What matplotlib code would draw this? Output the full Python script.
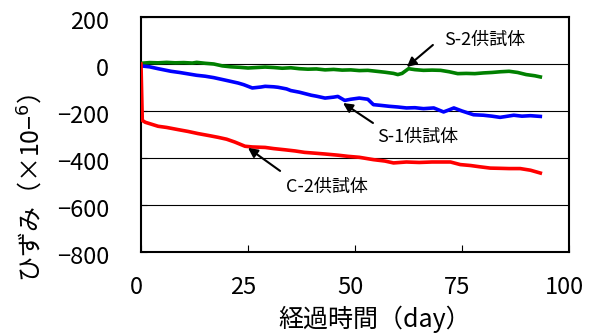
import matplotlib
matplotlib.use("Agg")
import matplotlib.pyplot as plt
import matplotlib.transforms as mtransforms

plt.rcParams['font.family'] = ['Noto Sans CJK JP', 'DejaVu Sans']

# S-2 (green)
s2_day = [0, 2, 4, 6, 8, 10, 12, 13, 15, 17, 19, 21, 23, 25, 27, 29, 31, 33, 35, 37, 39, 41, 43, 45, 47,
          49, 51, 53, 55, 57, 59, 60, 61, 62.5, 64, 66, 68, 70, 72, 74, 76, 78, 80, 82, 84, 86, 88, 90, 92, 93.3]
s2_val = [3, 6, 5, 7, 5, 6, 4, 7, 3, 0, -8, -12, -14, -17, -15, -13, -15, -18, -16, -20, -22, -21, -25, -23, -26,
          -25, -28, -27, -31, -35, -40, -45, -40, -20, -24, -27, -26, -27, -33, -41, -40, -41, -38, -36, -33, -31, -36, -45, -50, -55]

# S-1 (blue)
s1_day = [0, 2, 4, 7, 9, 11, 13, 15, 17, 18, 20, 22.7, 24, 26, 28, 29, 31, 32, 34, 35, 37, 39.8, 41, 43, 45, 46,
          47.6, 49, 51, 53, 54.3, 56, 58, 60, 62, 64, 66, 68.4, 70.7, 72, 73.1, 75, 77.7, 80, 82, 83.9, 85, 87.1, 89, 91, 93.3]
s1_val = [-8, -12, -20, -31, -36, -42, -48, -52, -58, -62, -70, -81, -88, -102, -98, -95, -97, -99, -106, -113, -120, -133, -137, -145, -141, -138,
          -155, -150, -145, -150, -173, -176, -180, -183, -187, -186, -190, -187, -204, -195, -187, -200, -216, -218, -222, -227, -224, -218, -222, -220, -223]

# C-2 (red)
c2_day = [0, 0.3, 1, 4, 6, 8.6, 11, 13.3, 16, 18, 20, 21.9, 24.3, 26, 29, 31, 33.6, 36, 38.2, 41, 43, 46, 48.4,
          51, 54.3, 57, 59, 62, 65, 68, 70, 72.3, 74.6, 77, 79, 81.6, 84, 86, 88.6, 91, 93.3]
c2_val = [0, -240, -248, -265, -270, -279, -287, -296, -305, -312, -320, -332, -350, -353, -355, -360, -365, -370, -376, -380, -383, -388, -393,
          -397, -407, -413, -421, -417, -419, -417, -417, -417, -428, -432, -437, -443, -444, -445, -445, -452, -464]

x_ticks = [0, 25, 50, 75, 100]
y_ticks = [-800, -600, -400, -200, 0, 200]
y_tick_labels = ['−800', '−600', '−400', '−200', '0', '200']

fig = plt.figure(figsize=(5.97, 3.36), dpi=100)
ax = fig.add_axes([141/597, 1 - 252/336, (569-141)/597, (252-17)/336])

lw = 2.6
ax.plot(s2_day, s2_val, color='#008000', lw=lw, zorder=3)
ax.plot(s1_day, s1_val, color='#0000FF', lw=lw, zorder=3)
ax.plot(c2_day, c2_val, color='#FF0000', lw=lw, zorder=3)

ax.set_xlim(0, 100)
ax.set_ylim(-800, 200)
ax.set_xticks(x_ticks)
ax.set_yticks(y_ticks)
ax.set_yticklabels(y_tick_labels)
ax.yaxis.grid(True, color='black', lw=0.8)
ax.set_axisbelow(True)
ax.tick_params(axis='x', direction='in', length=5, labelsize=17, pad=17, width=0.8)
ax.tick_params(axis='y', direction='in', length=4, labelsize=17, pad=23, width=0.8)
for s in ax.spines.values():
    s.set_linewidth(1.5)

dx = mtransforms.ScaledTranslation(-5/100, 0, fig.dpi_scale_trans)
for lab in ax.get_xticklabels():
    lab.set_transform(lab.get_transform() + dx)
dy = mtransforms.ScaledTranslation(0, -3/100, fig.dpi_scale_trans)
for lab in ax.get_yticklabels():
    lab.set_transform(lab.get_transform() + dy)

ax.set_xlabel('経過時間（day）', fontsize=18)
ax.xaxis.set_label_coords((375-141)/428, -(319-252)/235)
ax.xaxis.label.set_va('center')
ax.set_ylabel('ひずみ（×10−$^{6}$）', fontsize=18)
ax.yaxis.set_label_coords(-(141-32)/428, (252-188)/235)
ax.yaxis.label.set_va('center')

akw = dict(arrowstyle='-|>', color='black', lw=1.5, mutation_scale=14, shrinkA=0, shrinkB=0)
ax.annotate('', xy=(62.1, -13), xytext=(68.2, 81), arrowprops=akw)
ax.text(80.4, 104, 'S-2供試体', fontsize=13, ha='center', va='center')
ax.annotate('', xy=(47.2, -166), xytext=(54.2, -251), arrowprops=akw)
ax.text(64.7, -311, 'S-1供試体', fontsize=13, ha='center', va='center')
ax.annotate('', xy=(25, -357), xytext=(32.5, -455), arrowprops=akw)
ax.text(43.5, -523, 'C-2供試体', fontsize=13, ha='center', va='center')

fig.savefig('out.png', dpi=100)
